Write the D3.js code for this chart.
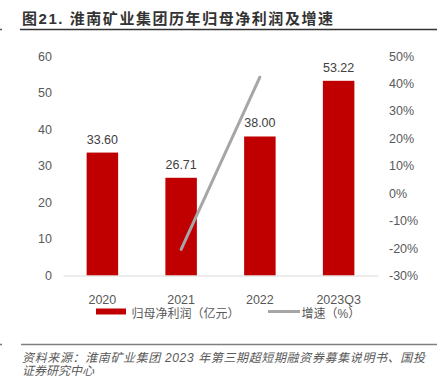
<!DOCTYPE html>
<html><head><meta charset="utf-8">
<script src="https://cdn.jsdelivr.net/npm/d3@7"></script>
<style>
html,body{margin:0;padding:0;background:#fff;}
svg{display:block;}
</style></head>
<body>
<svg id="c" width="441" height="381"></svg>
<script>
const categories = ["2020", "2021", "2022", "2023Q3"];
const profit = [33.60, 26.71, 38.00, 53.22];
const growth = [null, -20.51, 42.27, null];
const leftTicks = [0, 10, 20, 30, 40, 50, 60];
const rightTicks = [-30, -20, -10, 0, 10, 20, 30, 40, 50];
const titleText = "图21. 淮南矿业集团历年归母净利润及增速";
const legendLabels = ["归母净利润（亿元）", "增速（%）"];
const sourceLines = ["资料来源：淮南矿业集团 2023 年第三期超短期融资券募集说明书、国投", "证券研究中心"];

const svg = d3.select("#c");
const numFont = "'Liberation Sans', Arial, sans-serif";
const cjkFont = "'Liberation Sans', 'Noto Sans CJK SC', sans-serif";

const x = d3.scaleBand().domain(categories).range([63, 378]).paddingInner(0.6).paddingOuter(0.3);
const yL = d3.scaleLinear().domain([0, 60]).range([275.5, 56]);
const yR = d3.scaleLinear().domain([-30, 50]).range([275.5, 56]);

// title
svg.append("text").attr("x", 22).attr("y", 24)
  .attr("font-family", cjkFont).attr("font-size", 15).attr("font-weight", "bold")
  .attr("fill", "#333").attr("textLength", 311).attr("lengthAdjust", "spacing")
  .text(titleText);
svg.append("line").attr("x1", 20).attr("x2", 437).attr("y1", 29.5).attr("y2", 29.5)
  .attr("stroke", "#333").attr("stroke-width", 1.5);
svg.append("line").attr("x1", 0).attr("x2", 2).attr("y1", 29.5).attr("y2", 29.5)
  .attr("stroke", "#555").attr("stroke-width", 1.5);

// bars
svg.append("g").selectAll("rect").data(profit).join("rect")
  .attr("x", (d, i) => x(categories[i]))
  .attr("width", x.bandwidth())
  .attr("y", d => yL(d))
  .attr("height", d => yL(0) - yL(d))
  .attr("fill", "#c00000");

// data labels
svg.append("g").selectAll("text").data(profit).join("text")
  .attr("x", (d, i) => x(categories[i]) + x.bandwidth() / 2)
  .attr("y", d => yL(d) - 9)
  .attr("text-anchor", "middle")
  .attr("font-family", numFont).attr("font-size", 12.5).attr("fill", "#404040")
  .text(d => d.toFixed(2));

// x axis
const xAxis = d3.axisBottom(x).tickSize(0).tickPadding(0);
const gx = svg.append("g").attr("transform", `translate(0,${yL(0)})`).call(xAxis);
gx.select(".domain").attr("stroke", "#d9d9d9").attr("stroke-width", 1);
gx.selectAll("text").attr("font-family", numFont).attr("font-size", 12.5)
  .attr("fill", "#595959").attr("dy", null).attr("y", 28.5);

// left axis
const gl = svg.append("g").attr("transform", "translate(52,0)")
  .call(d3.axisLeft(yL).tickValues(leftTicks).tickSize(0).tickPadding(0).tickFormat(d3.format("d")));
gl.select(".domain").remove();
gl.selectAll("text").attr("font-family", numFont).attr("font-size", 12.5).attr("fill", "#595959");

// right axis
const gr = svg.append("g").attr("transform", "translate(389,0)")
  .call(d3.axisRight(yR).tickValues(rightTicks).tickSize(0).tickPadding(0).tickFormat(d => d + "%"));
gr.select(".domain").remove();
gr.selectAll("text").attr("font-family", numFont).attr("font-size", 12.5).attr("fill", "#595959");

// growth line
const line = d3.line()
  .defined(d => d.v !== null)
  .x(d => x(d.c) + x.bandwidth() / 2)
  .y(d => yR(d.v));
svg.append("path")
  .datum(categories.map((c, i) => ({c, v: growth[i]})))
  .attr("d", line).attr("fill", "none")
  .attr("stroke", "#a6a6a6").attr("stroke-width", 3).attr("stroke-linecap", "round");

// legend
const lg = svg.append("g");
lg.append("rect").attr("x", 96).attr("y", 308.5).attr("width", 30).attr("height", 6).attr("fill", "#c00000");
lg.append("text").attr("x", 131.5).attr("y", 318)
  .attr("font-family", cjkFont).attr("font-size", 12).attr("fill", "#595959").text(legendLabels[0]);
lg.append("line").attr("x1", 268).attr("x2", 300).attr("y1", 311.5).attr("y2", 311.5)
  .attr("stroke", "#a6a6a6").attr("stroke-width", 3);
lg.append("text").attr("x", 301.5).attr("y", 318)
  .attr("font-family", cjkFont).attr("font-size", 12).attr("fill", "#595959").text(legendLabels[1]);

// source
svg.append("line").attr("x1", 21).attr("x2", 437).attr("y1", 344.5).attr("y2", 344.5)
  .attr("stroke", "#7f7f7f").attr("stroke-width", 1.5);
svg.append("line").attr("x1", 0).attr("x2", 2).attr("y1", 344.5).attr("y2", 344.5)
  .attr("stroke", "#777").attr("stroke-width", 1.5);
svg.append("g").selectAll("text").data(sourceLines).join("text")
  .attr("x", 22).attr("y", (d, i) => 361.5 + i * 13.5)
  .attr("font-family", cjkFont).attr("font-size", 12).attr("font-style", "italic")
  .attr("fill", "#595959")
  .each(function(d, i) { if (i === 0) d3.select(this).attr("textLength", 403).attr("lengthAdjust", "spacing"); })
  .text(d => d);
</script>
</body></html>
